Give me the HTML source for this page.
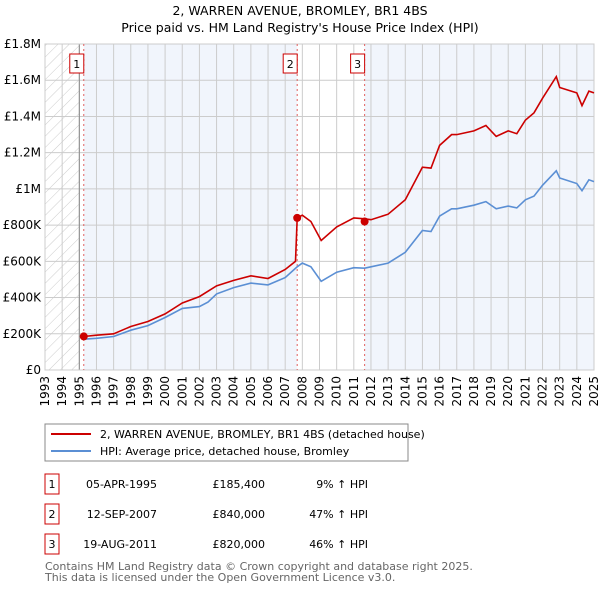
<!DOCTYPE html>
<html><head><meta charset="utf-8"><style>
body{margin:0;background:#fff;font-family:"DejaVu Sans","Liberation Sans",sans-serif;}
svg text{font-family:"DejaVu Sans","Liberation Sans",sans-serif;}
</style></head><body>
<svg id="c" width="600" height="590" xmlns="http://www.w3.org/2000/svg">
<defs><pattern id="hatch" width="8" height="8" patternUnits="userSpaceOnUse" patternTransform="rotate(45)"><line x1="0" y1="0" x2="0" y2="8" stroke="#ccc" stroke-width="1"/></pattern></defs>
<text x="300" y="15" text-anchor="middle" font-size="12.5">2, WARREN AVENUE, BROMLEY, BR1 4BS</text>
<text x="300" y="32" text-anchor="middle" font-size="12.5">Price paid vs. HM Land Registry's House Price Index (HPI)</text>
<g id="plot"></g>
<g>
<rect x="45" y="424" width="363" height="37" fill="#fff" stroke="#888"/>
<line x1="51" y1="434" x2="91" y2="434" stroke="#cc0000" stroke-width="2"/>
<text x="100" y="438" font-size="11">2, WARREN AVENUE, BROMLEY, BR1 4BS (detached house)</text>
<line x1="51" y1="451" x2="91" y2="451" stroke="#5b8fd4" stroke-width="2"/>
<text x="100" y="455" font-size="11">HPI: Average price, detached house, Bromley</text>
</g>
<g id="table" font-size="11"></g>
<text x="45" y="570" font-size="11" fill="#666">Contains HM Land Registry data © Crown copyright and database right 2025.</text>
<text x="45" y="581" font-size="11" fill="#666">This data is licensed under the Open Government Licence v3.0.</text>
</svg>
<script>
const hpiYears=[1995.26,1996,1997,1998,1999,2000,2001,2002,2002.5,2003,2004,2005,2006,2007,2007.7,2008,2008.5,2009.1,2010,2011,2011.63,2012,2013,2014,2015,2015.5,2016,2016.7,2017,2018,2018.7,2019.3,2020,2020.5,2021,2021.5,2022,2022.8,2023,2024,2024.3,2024.7,2025];
const hpiValues=[170,175,185,220,245,290,340,350,375,420,455,480,470,510,570,590,570,490,540,565,562,570,590,650,770,765,850,890,890,910,930,890,905,895,940,960,1020,1100,1060,1030,990,1050,1040];
const propYears=[1995.26,1996,1997,1998,1999,2000,2001,2002,2003,2004,2005,2006,2007,2007.6,2007.7,2008,2008.5,2009.1,2010,2011,2011.63,2012,2013,2014,2015,2015.5,2016,2016.7,2017,2018,2018.7,2019.3,2020,2020.5,2021,2021.5,2022,2022.8,2023,2024,2024.3,2024.7,2025];
const propValues=[185,192,200,240,268,310,370,405,465,495,520,505,555,600,840,855,820,715,790,840,835,830,860,940,1120,1115,1240,1300,1300,1320,1350,1290,1320,1305,1380,1420,1500,1620,1560,1530,1460,1540,1530];
const saleYears=[1995.26,2007.7,2011.63];
const saleValues=[185.4,840,820];
const saleLabels=["1","2","3"];
const saleDates=["05-APR-1995","12-SEP-2007","19-AUG-2011"];
const salePrices=["£185,400","£840,000","£820,000"];
const saleHpi=["9% ↑ HPI","47% ↑ HPI","46% ↑ HPI"];
const yTicks=[0,200,400,600,800,1000,1200,1400,1600,1800];
const yTickLabels=["£0","£200K","£400K","£600K","£800K","£1M","£1.2M","£1.4M","£1.6M","£1.8M"];
const xTicks=[1993,1994,1995,1996,1997,1998,1999,2000,2001,2002,2003,2004,2005,2006,2007,2008,2009,2010,2011,2012,2013,2014,2015,2016,2017,2018,2019,2020,2021,2022,2023,2024,2025];

const L=45,R=594,T=44,B=370,X0=1993,X1=2025,YMAX=1800;
const X=v=>L+(v-X0)/(X1-X0)*(R-L);
const Y=v=>B-v/YMAX*(B-T);
const NS="http://www.w3.org/2000/svg";
const plot=document.getElementById('plot');
function mk(tag,attrs,parent){const e=document.createElementNS(NS,tag);for(const k in attrs)e.setAttribute(k,attrs[k]);(parent||plot).appendChild(e);return e;}

let e=mk('rect',{x:X(saleYears[0]),y:T,width:X(saleYears[1])-X(saleYears[0]),height:B-T,fill:'#eef2fb',opacity:0.8});


e=mk('rect',{x:X(saleYears[2]),y:T,width:R-X(saleYears[2]),height:B-T,fill:'#eef2fb',opacity:0.8});


e=mk('rect',{x:L,y:T,width:X(1995)-L,height:B-T,fill:'url(#hatch)'});



yTicks.forEach((t,i)=>{
  let g=mk('line',{x1:L,x2:R,y1:Y(t),y2:Y(t),stroke:'#ccc'});
  
  
  let tx=mk('text',{x:L-4,y:Y(t)+4,'text-anchor':'end','font-size':12});
  tx.textContent=yTickLabels[i];
  
  
});
xTicks.forEach(t=>{
  let g=mk('line',{x1:X(t),x2:X(t),y1:T,y2:B,stroke:'#ccc'});
  
  
  let tx=mk('text',{x:0,y:0,'text-anchor':'end','font-size':12,transform:`translate(${X(t)+4},${B+6}) rotate(-90)`});
  tx.textContent=t;
  
  
});
e=mk('line',{x1:X(1995),x2:X(1995),y1:T,y2:B,stroke:'#888'});


e=mk('rect',{x:L,y:T,width:R-L,height:B-T,fill:'none',stroke:'#ccc'});



saleYears.forEach((s,i)=>{
  let l=mk('line',{x1:X(s),x2:X(s),y1:T,y2:B,stroke:'#e06060','stroke-dasharray':'2,3'});
  
  
  let r=mk('rect',{x:X(s)-14,y:54,width:14,height:19,fill:'#fff',stroke:'#cc0000'});
  
  
  let t=mk('text',{x:X(s)-7,y:68,'text-anchor':'middle','font-size':11});
  t.textContent=saleLabels[i];
  
  
});

const path=(xs,vs)=>xs.map((x,i)=>(i?'L':'M')+X(x).toFixed(1)+','+Y(vs[i]).toFixed(1)).join('');
e=mk('path',{d:path(hpiYears,hpiValues),fill:'none',stroke:'#5b8fd4','stroke-width':1.6});


e=mk('path',{d:path(propYears,propValues),fill:'none',stroke:'#cc0000','stroke-width':1.6});


saleYears.forEach((s,i)=>{
  let c=mk('circle',{cx:X(s),cy:Y(saleValues[i]),r:4,fill:'#cc0000'});
  
  
});

const tbl=document.getElementById('table');
const rowY=[484,514,544];
saleLabels.forEach((lab,i)=>{
  const y=rowY[i];
  let r=mk('rect',{x:45,y:y-10,width:14,height:20,fill:'#fff',stroke:'#cc0000'},tbl);
  
  
  const cells=[[52,'middle',lab],[127,'end',null],[0,0,0]];
  let t=mk('text',{x:52,y:y+4,'text-anchor':'middle'},tbl);t.textContent=lab;
  
  
  t=mk('text',{x:157,y:y+4,'text-anchor':'end'},tbl);t.textContent=saleDates[i];
  
  
  t=mk('text',{x:265,y:y+4,'text-anchor':'end'},tbl);t.textContent=salePrices[i];
  
  
  t=mk('text',{x:368,y:y+4,'text-anchor':'end'},tbl);t.textContent=saleHpi[i];
  
  
});
</script>
</body></html>
